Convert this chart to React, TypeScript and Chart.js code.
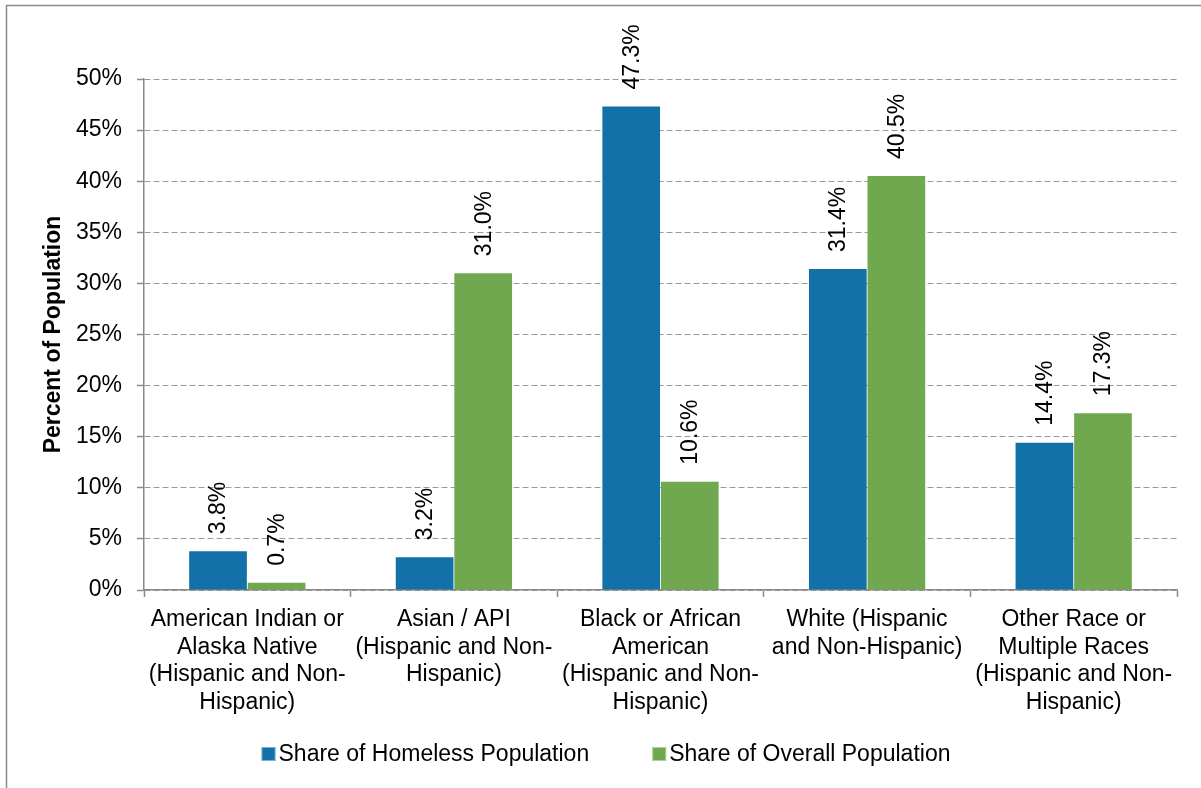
import React, { useEffect, useRef } from 'react';
import { Chart, registerables } from 'chart.js';

Chart.register(...registerables);

const categories: string[][] = [
  ['American Indian or', 'Alaska Native', '(Hispanic and Non-', 'Hispanic)'],
  ['Asian / API', '(Hispanic and Non-', 'Hispanic)'],
  ['Black or African', 'American', '(Hispanic and Non-', 'Hispanic)'],
  ['White (Hispanic', 'and Non-Hispanic)'],
  ['Other Race or', 'Multiple Races', '(Hispanic and Non-', 'Hispanic)'],
];
const homelessShare = [3.8, 3.2, 47.3, 31.4, 14.4];
const overallShare = [0.7, 31.0, 10.6, 40.5, 17.3];
const seriesNames = ['Share of Homeless Population', 'Share of Overall Population'];
const seriesColors = ['#1171A8', '#70A84F'];
const yMin = 0;
const yMax = 50;
const yStep = 5;
const yTitle = 'Percent of Population';

const FONT = "'Liberation Sans', Arial, sans-serif";
const W = 1201;
const H = 788;

const framePlugin = {
  id: 'frame',
  beforeDraw(chart: any) {
    const ctx = chart.ctx;
    ctx.save();
    ctx.fillStyle = '#ffffff';
    ctx.fillRect(0, 0, W, H);
    ctx.strokeStyle = '#8a8a8a';
    ctx.lineWidth = 1.5;
    ctx.beginPath();
    ctx.moveTo(6.5, H + 2);
    ctx.lineTo(6.5, 5.5);
    ctx.lineTo(W + 2, 5.5);
    ctx.stroke();
    ctx.restore();
  },
};

const valueLabelPlugin = {
  id: 'valueLabels',
  afterDatasetsDraw(chart: any) {
    const ctx = chart.ctx;
    ctx.save();
    ctx.font = `23px ${FONT}`;
    ctx.fillStyle = '#000000';
    ctx.textAlign = 'left';
    ctx.textBaseline = 'middle';
    chart.data.datasets.forEach((ds: any, di: number) => {
      const meta = chart.getDatasetMeta(di);
      meta.data.forEach((bar: any, i: number) => {
        const v = ds.data[i] as number;
        ctx.save();
        ctx.translate(bar.x + 1, bar.y - 17);
        ctx.rotate(-Math.PI / 2);
        ctx.fillText(v.toFixed(1) + '%', 0, 0);
        ctx.restore();
      });
    });
    ctx.restore();
  },
};

const legendPlugin = {
  id: 'bottomLegend',
  afterDraw(chart: any) {
    const ctx = chart.ctx;
    ctx.save();
    ctx.font = `23px ${FONT}`;
    ctx.textBaseline = 'middle';
    ctx.textAlign = 'left';
    const box = 14;
    const textGap = 3;
    const itemGap = 63;
    const y = 754;
    const widths = seriesNames.map((n) => ctx.measureText(n).width);
    const total =
      widths.reduce((a, w) => a + box + textGap + w, 0) + itemGap * (seriesNames.length - 1);
    let x = 606 - total / 2;
    seriesNames.forEach((name, i) => {
      ctx.fillStyle = seriesColors[i];
      ctx.fillRect(x, y - box / 2, box, box);
      ctx.strokeStyle = 'rgba(255,255,255,0.45)';
      ctx.lineWidth = 1;
      ctx.strokeRect(x + 0.5, y - box / 2 + 0.5, box - 1, box - 1);
      ctx.fillStyle = '#000000';
      ctx.fillText(name, x + box + textGap, y + 1);
      x += box + textGap + widths[i] + itemGap;
    });
    ctx.restore();
  },
};

export default function App() {
  const canvasRef = useRef<HTMLCanvasElement | null>(null);

  useEffect(() => {
    if (!canvasRef.current) return;
    Chart.defaults.font.family = FONT;
    Chart.defaults.color = '#000000';
    const chart = new Chart(canvasRef.current, {
      type: 'bar',
      data: {
        labels: categories,
        datasets: [
          {
            label: seriesNames[0],
            data: homelessShare,
            backgroundColor: seriesColors[0],
            borderWidth: 0,
            categoryPercentage: 0.567,
            barPercentage: 0.985,
          },
          {
            label: seriesNames[1],
            data: overallShare,
            backgroundColor: seriesColors[1],
            borderWidth: 0,
            categoryPercentage: 0.567,
            barPercentage: 0.985,
          },
        ],
      },
      options: {
        animation: false,
        responsive: false,
        maintainAspectRatio: false,
        devicePixelRatio: 1,
        layout: { padding: { top: 79, right: 24, left: 0, bottom: 0 } },
        plugins: {
          legend: { display: false },
          tooltip: { enabled: false },
          title: { display: false },
        },
        scales: {
          x: {
            offset: true,
            grid: {
              display: true,
              offset: true,
              drawOnChartArea: false,
              drawTicks: true,
              tickLength: 7,
              tickColor: '#8a8a8a',
              tickWidth: 1.5,
            },
            border: { display: true, color: '#8a8a8a', width: 1.5 },
            ticks: {
              font: { size: 23, family: FONT },
              color: '#000000',
              padding: 9,
              maxRotation: 0,
              autoSkip: false,
            },
            afterFit(scale: any) {
              scale.height = H - 590;
            },
          },
          y: {
            min: yMin,
            max: yMax,
            grid: {
              color: '#9a9a9a',
              lineWidth: 1,
              drawTicks: true,
              tickLength: 7,
              tickColor: '#8a8a8a',
              tickWidth: 1.5,
              tickBorderDash: [],
            },
            border: { display: true, color: '#8a8a8a', width: 1.5, dash: [6, 3] },
            ticks: {
              stepSize: yStep,
              font: { size: 23, family: FONT },
              color: '#000000',
              padding: 15,
              callback: (v: any) => `${v}%`,
            },
            title: {
              display: true,
              text: yTitle,
              font: { size: 23, weight: 'bold', family: FONT },
              color: '#000000',
              padding: { top: 40, bottom: 0 },
            },
            afterFit(scale: any) {
              scale.width = 144;
            },
          },
        },
      },
      plugins: [framePlugin, valueLabelPlugin, legendPlugin],
    } as any);
    return () => chart.destroy();
  }, []);

  return (
    <div style={{ position: 'absolute', left: 0, top: 0, width: W, height: H, background: '#fff' }}>
      <canvas ref={canvasRef} width={W} height={H} style={{ display: 'block', width: W, height: H }} />
    </div>
  );
}
